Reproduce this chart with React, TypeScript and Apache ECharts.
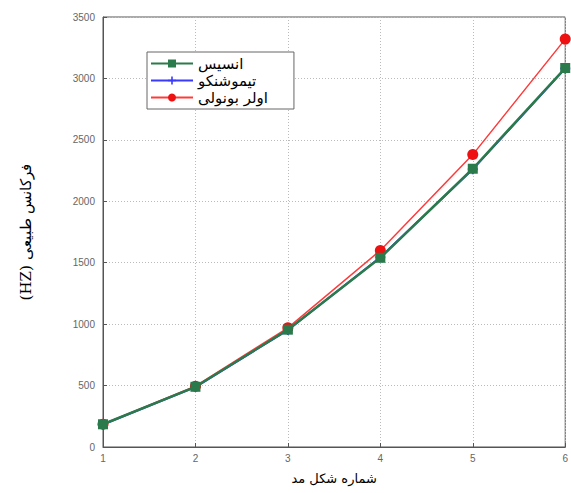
import React, { useEffect, useRef } from "react";
import * as echarts from "echarts";

const categories = ["1", "2", "3", "4", "5", "6"];
const ansys = [185, 490, 955, 1540, 2265, 3085];
const timoshenko = [183, 488, 952, 1545, 2260, 3080];
const eulerBernoulli = [186, 495, 970, 1600, 2380, 3320];
const seriesNames = ["انسیس", "تیموشنکو", "اولر بونولی"];
const yTicks = [0, 500, 1000, 1500, 2000, 2500, 3000, 3500];

const plusPath = "path://M4,0 L6,0 L6,4 L10,4 L10,6 L6,6 L6,10 L4,10 L4,6 L0,6 L0,4 L4,4 Z";

export default function App() {
  const ref = useRef<HTMLDivElement>(null);
  useEffect(() => {
    if (!ref.current) return;
    const chart = echarts.init(ref.current, null, { renderer: "svg" });
    const tickLabel = { color: "#666", fontSize: 10, fontFamily: "Liberation Sans, Arial" };
    const axisLine = { show: true, lineStyle: { color: "#555", width: 1 } };
    const splitLine = { show: true, lineStyle: { color: "#bbb", type: [1, 2] as any, width: 1 } };
    chart.setOption({
      animation: false,
      backgroundColor: "#fff",
      grid: { left: 103, right: 5, top: 17, bottom: 46, show: true, borderColor: "#555", borderWidth: 1 },
      legend: {
        orient: "vertical",
        left: 147,
        top: 52,
        padding: [3, 26, 3, 3],
        itemGap: 0,
        itemWidth: 42,
        itemHeight: 10,
        backgroundColor: "#fff",
        borderColor: "#666",
        borderWidth: 1,
        textStyle: { fontSize: 15, color: "#000", fontFamily: "DejaVu Sans", lineHeight: 17 },
        data: seriesNames,
      },
      xAxis: {
        type: "value",
        min: 1,
        max: 6,
        interval: 1,
        name: "شماره شکل مد",
        nameLocation: "middle",
        nameGap: 25,
        nameTextStyle: { fontSize: 13, color: "#000", fontFamily: "DejaVu Sans" },
        axisLine,
        axisTick: { show: true, inside: true, length: 4, lineStyle: { color: "#555" } },
        axisLabel: { ...tickLabel, margin: 6 },
        splitLine,
      },
      yAxis: {
        type: "value",
        min: 0,
        max: 3500,
        interval: 500,
        name: "(HZ) فرکانس طبیعی",
        nameLocation: "middle",
        nameGap: 70,
        nameTextStyle: { fontSize: 15, color: "#000", fontFamily: "DejaVu Serif, Liberation Serif" },
        axisLine,
        axisTick: { show: true, inside: true, length: 4, lineStyle: { color: "#555" } },
        axisLabel: { ...tickLabel, margin: 8, formatter: (v: number) => (yTicks.includes(v) ? String(v) : "") },
        splitLine,
      },
      series: [
        {
          name: seriesNames[0],
          type: "line",
          z: 4,
          data: categories.map((c, i) => [Number(c), ansys[i]]),
          symbol: "rect",
          symbolSize: 10,
          lineStyle: { color: "#2a7a4c", width: 2.5 },
          itemStyle: { color: "#2a7a4c" },
        },
        {
          name: seriesNames[1],
          type: "line",
          z: 2,
          data: categories.map((c, i) => [Number(c), timoshenko[i]]),
          symbol: plusPath,
          symbolSize: 10,
          lineStyle: { color: "#3a3aff", width: 2 },
          itemStyle: { color: "#3a3aff" },
        },
        {
          name: seriesNames[2],
          type: "line",
          z: 3,
          data: categories.map((c, i) => [Number(c), eulerBernoulli[i]]),
          symbol: "circle",
          symbolSize: 11,
          lineStyle: { color: "#ff3a3a", width: 1.5 },
          itemStyle: { color: "#ee1111" },
        },
      ],
    });
    return () => chart.dispose();
  }, []);
  return (
    <div
      ref={ref}
      style={{ position: "fixed", left: 0, top: 0, width: 571, height: 493 }}
    />
  );
}
